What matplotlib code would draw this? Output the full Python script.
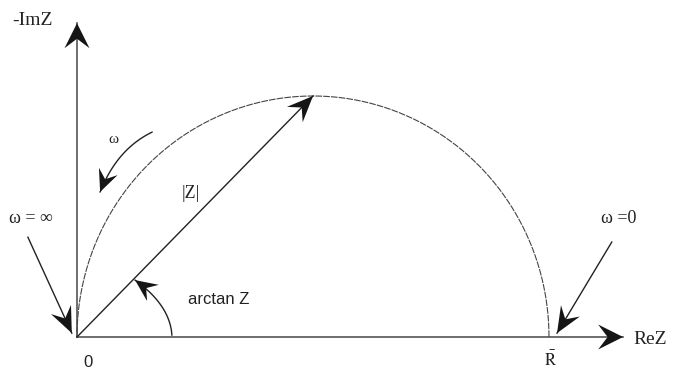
import numpy as np
import matplotlib
matplotlib.use("Agg")
import matplotlib.pyplot as plt
from matplotlib.patches import Polygon

# geometry of the Nyquist diagram (R = 1)
R = 1.0
axis_tips = [(0.0, 0.651), (1.157, 0.0)]            # -ImZ, ReZ arrow tips
z_tip = (0.5, 0.5)                                    # |Z| vector end
omega_curve = [(0.159, 0.425), (0.085, 0.390), (0.049, 0.301)]
arctan_curve = [(0.201, 0.004), (0.197, 0.066), (0.123, 0.118)]
omega_inf_arrow = [(-0.104, 0.207), (-0.011, 0.008)]
omega_zero_arrow = [(1.133, 0.197), (1.017, 0.008)]

serif_labels = [("-ImZ", -0.138, 0.656, 14), ("ReZ", 1.178, -0.006, 14),
                ("ω", 0.066, 0.409, 11), ("|Z|", 0.222, 0.297, 13),
                ("ω = ∞", -0.144, 0.245, 13), ("ω =0", 1.111, 0.245, 13)]
sans_labels = [("arctan Z", 0.235, 0.077, 12), ("0", 0.013, -0.052, 12)]
r_label = (r"$\bar{\mathrm{R}}$", 0.990, -0.048, 12)

# pixels per data unit
SX, SY = 472.0, 482.0

fig = plt.figure(figsize=(6.74, 3.71), dpi=100)
ax = fig.add_axes([0, 0, 1, 1])
ax.set_xlim(-77 / SX, (674 - 77) / SX)
ax.set_ylim((337 - 371) / SY, 337 / SY)
ax.axis("off")


def stealth(tip, frm, length=24, width=22, color="#151515"):
    # filled swept-back arrowhead, sized in pixels
    ang = np.arctan2((tip[1] - frm[1]) * SY, (tip[0] - frm[0]) * SX)
    local = np.array([[0, 0], [-length, width / 2], [-0.62 * length, 0],
                      [-length, -width / 2]])
    rot = np.array([[np.cos(ang), -np.sin(ang)], [np.sin(ang), np.cos(ang)]])
    pts = local @ rot.T
    pts[:, 0] = tip[0] + pts[:, 0] / SX
    pts[:, 1] = tip[1] + pts[:, 1] / SY
    ax.add_patch(Polygon(pts, closed=True, color=color, lw=0, zorder=5))


def bezier(p0, p1, p2, n=60):
    t = np.linspace(0, 1, n)[:, None]
    p0, p1, p2 = map(np.asarray, (p0, p1, p2))
    return (1 - t) ** 2 * p0 + 2 * (1 - t) * t * p1 + t ** 2 * p2


# axes
for tip in axis_tips:
    ax.plot([0, tip[0]], [0, tip[1]], color="#555555", lw=1.2)
    stealth(tip, (0, 0), length=25, width=25)

# semicircle
th = np.linspace(0, np.pi, 300)
ax.plot(R / 2 + R / 2 * np.cos(th), R / 2 * np.sin(th), color="#444444",
        lw=0.8, ls=(0, (6, 1)))

# |Z| vector
ax.plot([0, z_tip[0]], [0, z_tip[1]], color="#222222", lw=1.0)
stealth(z_tip, (0, 0), length=26, width=22)

# curved arrows
for p0, p1, p2 in (omega_curve, arctan_curve):
    c = bezier(p0, p1, p2)
    ax.plot(c[:, 0], c[:, 1], color="#222222", lw=1.0)
    stealth(p2, p1, length=22, width=20)

# pointer arrows at the ends of the arc
for frm, tip in (omega_inf_arrow, omega_zero_arrow):
    ax.plot([frm[0], tip[0]], [frm[1], tip[1]], color="#222222", lw=1.0)
    stealth(tip, frm, length=26, width=22)

for txt, x, y, fs in serif_labels:
    ax.text(x, y, txt, fontsize=fs, va="center", ha="left", color="#222222",
            family=["Liberation Serif", "DejaVu Serif"])
for txt, x, y, fs in sans_labels:
    ax.text(x, y, txt, fontsize=fs, va="center", ha="left", color="#222222",
            family=["Liberation Sans", "DejaVu Sans"])
ax.text(r_label[1], r_label[2], r_label[0], fontsize=r_label[3], va="center",
        ha="left", color="#222222", math_fontfamily="stix")

fig.savefig("out.png", dpi=100)
